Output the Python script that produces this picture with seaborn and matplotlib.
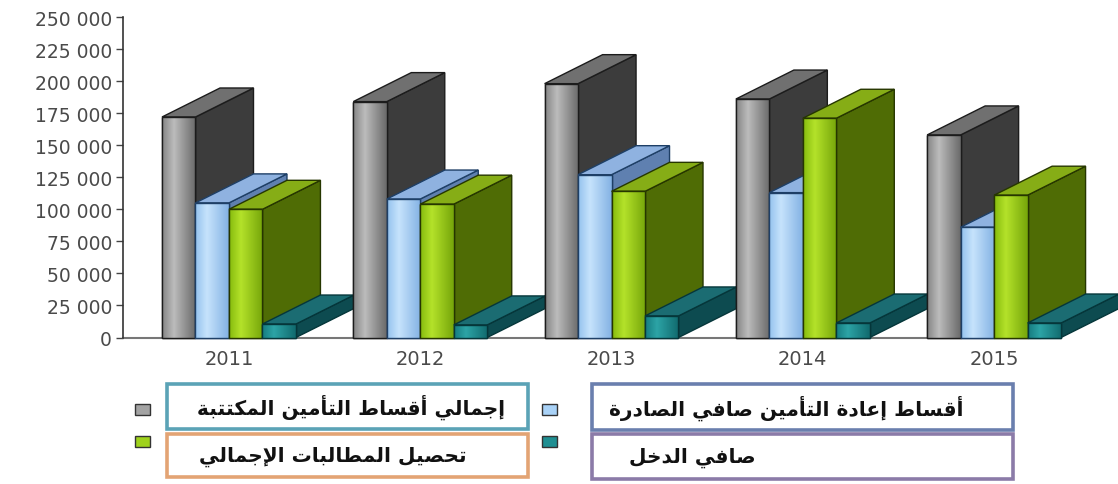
import numpy as np
import pandas as pd
import matplotlib
matplotlib.use("Agg")
import matplotlib.pyplot as plt
import seaborn as sns
from matplotlib.patches import Polygon, Rectangle
from matplotlib.colors import to_rgb
from matplotlib.ticker import FuncFormatter, FixedLocator

# ---------------- data ----------------
years = ["2011", "2012", "2013", "2014", "2015"]
series_labels = [
    "إجمالي أقساط التأمين المكتتبة",
    "أقساط إعادة التأمين صافي الصادرة",
    "تحصيل المطالبات الإجمالي",
    "صافي الدخل",
]
gross_written = [172000, 184000, 198000, 186000, 158000]
reinsurance_net = [105000, 108000, 127000, 113000, 86000]
claims_total = [100000, 104000, 114000, 171000, 111000]
net_income = [10500, 9800, 16800, 11300, 11300]
y_ticks = [0, 25000, 50000, 75000, 100000, 125000, 150000, 175000, 200000, 225000, 250000]

# ---------------- simple Arabic shaping (presentation forms + RTL) ----------------
_DUAL = {'ب': 0xFE8F, 'ت': 0xFE95, 'ج': 0xFE9D, 'ح': 0xFEA1, 'خ': 0xFEA5, 'س': 0xFEB1,
         'ص': 0xFEB9, 'ط': 0xFEC1, 'ع': 0xFEC9, 'ف': 0xFED1, 'ق': 0xFED5, 'ك': 0xFED9,
         'ل': 0xFEDD, 'م': 0xFEE1, 'ن': 0xFEE5, 'ي': 0xFEF1}
_RIGHT = {'ا': 0xFE8D, 'أ': 0xFE83, 'إ': 0xFE87, 'ة': 0xFE93, 'د': 0xFEA9, 'ر': 0xFEAD}
_LAMALEF = {'ا': 0xFEFB, 'أ': 0xFEF7, 'إ': 0xFEF9}


def shape_ar(text):
    out = []
    chars = list(text)
    i = 0
    n = len(chars)
    while i < n:
        c = chars[i]
        prev = chars[i - 1] if i > 0 else None
        joins_prev = prev in _DUAL
        if c == 'ل' and i + 1 < n and chars[i + 1] in _LAMALEF:
            base = _LAMALEF[chars[i + 1]]
            out.append(chr(base + (1 if joins_prev else 0)))
            i += 2
            continue
        if c in _DUAL:
            nxt = chars[i + 1] if i + 1 < n else None
            joins_next = nxt in _DUAL or nxt in _RIGHT
            if joins_prev and joins_next:
                off = 3
            elif joins_prev:
                off = 1
            elif joins_next:
                off = 2
            else:
                off = 0
            out.append(chr(_DUAL[c] + off))
        elif c in _RIGHT:
            out.append(chr(_RIGHT[c] + (1 if joins_prev else 0)))
        else:
            out.append(c)
        i += 1
    return "".join(reversed(out))


# ---------------- styling ----------------
sns.set_style("white")
plt.rcParams['font.family'] = ['DejaVu Sans']

W, H = 1118, 485
fig = plt.figure(figsize=(W / 100, H / 100), dpi=100)
fig.patch.set_facecolor("white")

ax_left, ax_right, ax_top, ax_bottom = 123, 1040, 18, 338.5
ax = fig.add_axes([ax_left / W, (H - ax_bottom) / H, (ax_right - ax_left) / W, (ax_bottom - ax_top) / H])

front_cols = ["#a3a3a3", "#a9d2f7", "#9fd21c", "#1f8f92"]
# horizontal shading of the front faces (left, highlight, right)
front_grad = [("#858585", "#bcbcbc", "#6a6a6a"),
              ("#94c2ee", "#c6e3fc", "#84b2e4"),
              ("#86bb0e", "#b4e22a", "#76a60a"),
              ("#167c80", "#2ca4a6", "#116a6e")]
top_cols = ["#707070", "#8fb2e0", "#86ad16", "#1b6c72"]
side_cols = ["#3c3c3c", "#5f80b0", "#4f6c05", "#0d4b50"]
edge_cols = ["#1c1c1c", "#1e3f66", "#263600", "#05363a"]

df = pd.DataFrame({
    "year": years * 4,
    "series": np.repeat(series_labels, len(years)),
    "value": gross_written + reinsurance_net + claims_total + net_income,
})

sns.barplot(data=df, x="year", y="value", hue="series", hue_order=series_labels,
            palette=front_cols, width=0.7, saturation=1, ax=ax, legend=False,
            linewidth=1.0, edgecolor="#222222", errorbar=None)

x_lo, x_hi = -0.554, 4.24

# depth of the 3-D effect, in data units (about 58 px right and 29 px up)
px_x = (x_hi - x_lo) / (ax_right - ax_left)
px_y = 250000 / (ax_bottom - ax_top)
dx, dy = 58 * px_x, 29 * px_y


def gradient_row(cols, n=64):
    c0, c1, c2 = (np.array(to_rgb(c)) for c in cols)
    t = np.linspace(0, 1, n)
    row = np.empty((1, n, 3))
    for k, tt in enumerate(t):
        if tt < 0.35:
            f = tt / 0.35
            row[0, k] = c0 * (1 - f) + c1 * f
        else:
            f = (tt - 0.35) / 0.65
            row[0, k] = c1 * (1 - f) + c2 * f
    return row


for j, cont in enumerate(ax.containers):
    grad = gradient_row(front_grad[j])
    for i, bar in enumerate(cont):
        x0, w, h = bar.get_x(), bar.get_width(), bar.get_height()
        base_z = 3 + (i * 4 + j) * 1.0
        bar.set_edgecolor(edge_cols[j])
        bar.set_zorder(base_z + 0.5)
        bar.set_clip_on(False)
        side = Polygon([(x0 + w, 0), (x0 + w + dx, dy), (x0 + w + dx, h + dy), (x0 + w, h)],
                       closed=True, facecolor=side_cols[j], edgecolor=edge_cols[j],
                       linewidth=1.0, zorder=base_z, clip_on=False)
        top = Polygon([(x0, h), (x0 + w, h), (x0 + w + dx, h + dy), (x0 + dx, h + dy)],
                      closed=True, facecolor=top_cols[j], edgecolor=edge_cols[j],
                      linewidth=1.0, zorder=base_z + 0.2, clip_on=False)
        ax.add_patch(side)
        ax.add_patch(top)
        im = ax.imshow(grad, extent=(x0, x0 + w, 0, h), aspect="auto",
                       interpolation="bilinear", zorder=base_z + 0.55, origin="lower")
        im.set_clip_on(False)
        outline = Rectangle((x0, 0), w, h, facecolor="none", edgecolor=edge_cols[j],
                            linewidth=1.0, zorder=base_z + 0.6, clip_on=False)
        ax.add_patch(outline)

ax.set_xlim(x_lo, x_hi)
ax.set_ylim(0, 250000)
ax.set_aspect("auto")

# axes appearance
for s in ["top", "right"]:
    ax.spines[s].set_visible(False)
ax.spines["left"].set_color("#333333")
ax.spines["left"].set_linewidth(1.2)
ax.spines["bottom"].set_color("#777777")
ax.spines["bottom"].set_linewidth(1.5)
ax.spines["left"].set_zorder(100)
ax.spines["bottom"].set_zorder(1)

ax.yaxis.set_major_locator(FixedLocator(y_ticks))
ax.yaxis.set_major_formatter(FuncFormatter(lambda v, p: f"{int(v):,}".replace(",", " ")))
ax.tick_params(axis="y", direction="out", length=5, width=1, color="#444444",
               labelsize=13.5, labelcolor="#4a4a4a", pad=3, left=True)
ax.tick_params(axis="x", length=0, labelsize=14, labelcolor="#4a4a4a", pad=8)
ax.set_xlabel("")
ax.set_ylabel("")
ax.grid(False)


# ---------------- legend (boxes drawn in pixel coordinates) ----------------
def fx(px):
    return px / W


def fy(py):
    return 1 - py / H


boxes = [
    # (square_x, square_y, box_x0, box_y0, box_x1, box_y1, border color, text x)
    (135, 405, 167, 385, 528, 430, "#5ba3b6", 351),
    (542, 405, 592, 385, 1013, 431, "#6a7fae", 786),
    (135, 437, 167, 435, 528, 478, "#e3a474", 333),
    (542, 437, 592, 435, 1013, 480, "#8b7ba8", 692),
]
sq_cols = [front_cols[0], front_cols[1], front_cols[2], front_cols[3]]
for k, (sx, sy, bx0, by0, bx1, by1, bc, tx) in enumerate(boxes):
    fig.add_artist(Rectangle((fx(sx), fy(sy + 11)), 15 / W, 11 / H, transform=fig.transFigure,
                             facecolor=sq_cols[k], edgecolor="#333333", linewidth=1.0))
    fig.add_artist(Rectangle((fx(bx0), fy(by1)), (bx1 - bx0) / W, (by1 - by0) / H,
                             transform=fig.transFigure, facecolor="white",
                             edgecolor=bc, linewidth=2.6))
    fig.text(fx(tx), fy((by0 + by1) / 2), shape_ar(series_labels[k]), ha="center", va="center",
             fontsize=14.5, fontweight="bold", color="#111111", family=["DejaVu Sans"])

fig.savefig("out.png", dpi=100, facecolor="white")
